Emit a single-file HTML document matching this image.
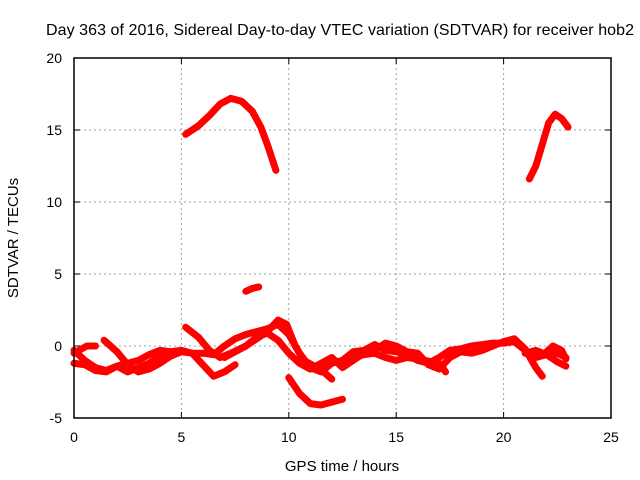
<!DOCTYPE html>
<html><head><meta charset="utf-8"><style>
body{margin:0;background:#fff}
svg{display:block;font-family:"Liberation Sans",sans-serif}
</style></head><body>
<svg id="chart" width="640" height="480">
<text x="340" y="35" text-anchor="middle" font-size="16" textLength="588">Day 363 of 2016, Sidereal Day-to-day VTEC variation (SDTVAR) for receiver hob2</text>
<text x="342" y="471" text-anchor="middle" font-size="15">GPS time / hours</text>
<text transform="translate(18,238) rotate(-90)" text-anchor="middle" font-size="15">SDTVAR / TECUs</text>
<g id="grid"></g><g id="ticks"></g><g id="series"></g>
<rect x="74" y="58" width="537" height="360" fill="none" stroke="#000" stroke-width="1.5"/>
</svg>
<script>
const xTicks=[0,5,10,15,20,25];
const yTicks=[-5,0,5,10,15,20];
const arcA=[[5.2,14.7],[5.8,15.3],[6.3,16],[6.8,16.8],[7.3,17.2],[7.8,17],[8.3,16.3],[8.7,15.2],[9.0,14],[9.4,12.2]];
const arcB=[[21.2,11.6],[21.5,12.5],[21.8,14],[22.1,15.5],[22.4,16.1],[22.7,15.8],[23,15.2]];
const segC=[[8.0,3.8],[8.3,4.0],[8.6,4.1]];
const L1=[[0,-0.3],[0.5,-1],[1,-1.5],[1.5,-1.7],[2,-1.4],[2.5,-1.2],[3,-1.0],[3.5,-0.6],[4,-0.3],[4.5,-0.4],[5,-0.4],[5.5,-0.5],[6,-0.5],[6.5,-0.6],[7,0],[7.5,0.5],[8,0.8],[8.5,1],[9,1.2],[9.5,1.5],[10,0.8],[10.5,-0.5],[11,-1.5],[11.5,-1.8],[12,-1.2],[12.5,-1],[13,-0.4],[13.5,-0.3],[14,0.1],[14.5,-0.3],[15,-0.4],[15.5,-0.6],[16,-1],[16.5,-1.2],[17,-0.8],[17.5,-0.3],[18,-0.2],[18.5,0],[19,0.1],[19.5,0.2],[20,0.2],[20.5,0.3],[21,-0.3],[21.5,-0.8],[22,-0.6],[22.5,-0.5],[22.9,-0.8]];
const L2=[[0,-1.2],[0.5,-1.3],[1,-1.7],[1.5,-1.8],[2,-1.4],[2.5,-1.8],[3,-1.5],[3.5,-1.2],[4,-0.7],[4.5,-0.4],[5,-0.3],[5.5,-0.5],[6,-1.3],[6.5,-2.1],[7,-1.8],[7.5,-1.3]];
const L3=[[0,-0.5],[0.6,0],[1,0]];
const L4=[[1.4,0.4],[2,-0.4],[2.5,-1.3],[3,-1.8],[3.5,-1.6],[4,-1.2],[4.5,-0.7],[5,-0.4]];
const L5=[[5.2,1.3],[5.8,0.6],[6.3,-0.3],[6.8,-0.8],[7.3,-0.5],[8,0],[8.5,0.5],[9,1],[9.5,1.8],[9.9,1.5],[10.3,0],[10.7,-1],[11.2,-1.4],[11.7,-1.9],[12,-2.3]];
const L6=[[10,-2.2],[10.5,-3.3],[11,-4],[11.5,-4.1],[12,-3.9],[12.5,-3.7]];
const L7=[[7,-0.8],[7.5,-0.4],[8,0],[8.5,0.6],[9,0.9],[9.5,0.4],[10,-0.5],[10.5,-1.2],[11,-1.6],[11.5,-1.2],[12,-0.8],[12.5,-1.5],[13,-1],[13.5,-0.5],[14,-0.3],[14.5,0.2],[15,0],[15.5,-0.4],[16,-0.5],[16.5,-1.3],[17,-1.6],[17.5,-0.8],[18,-0.4],[18.5,-0.5],[19,-0.3],[19.5,0],[20,0.3],[20.5,0.5],[21,-0.2],[21.5,-1.5],[21.8,-2.1]];
const L8=[[13,-0.8],[13.5,-0.6],[14,-0.5],[14.5,-0.8],[15,-1],[15.5,-0.8],[16,-0.9],[17,-1.2],[17.3,-1.8]];
const L9=[[21,-0.5],[21.5,-0.3],[22,-0.6],[22.5,-1.1],[22.9,-1.4]];
const L10=[[22,-0.4],[22.3,0],[22.7,-0.3],[22.9,-0.9]];
const seriesList=[arcA,arcB,segC,L1,L2,L3,L4,L5,L6,L7,L8,L9,L10];
const X0=74,X1=611,Y0=418,Y1=58;
function sx(v){return X0+(v-0)/(25-0)*(X1-X0);}
function sy(v){return Y0-(v+5)/(25)*(Y0-Y1);}
const NS="http://www.w3.org/2000/svg";
const grid=document.getElementById('grid'),ticks=document.getElementById('ticks'),ser=document.getElementById('series');
function mk(tag,attrs,parent){const e=document.createElementNS(NS,tag);for(const k in attrs)e.setAttribute(k,attrs[k]);parent.appendChild(e);return e;}
xTicks.forEach(t=>{const x=sx(t);
 if(t>0&&t<25){const g=mk('line',{x1:x,x2:x,y1:Y1,y2:Y0,stroke:'#a0a0a0','stroke-dasharray':'2,3'},grid);
 
 }
 mk('line',{x1:x,x2:x,y1:Y0,y2:Y0-6,stroke:'#000'},ticks);
 mk('line',{x1:x,x2:x,y1:Y1,y2:Y1+6,stroke:'#000'},ticks);
 const l=mk('text',{x:x,y:Y0+24,'text-anchor':'middle','font-size':'14'},ticks);l.textContent=t;
 
 });
yTicks.forEach(t=>{const y=sy(t);
 if(t>-5&&t<20){const g=mk('line',{x1:X0,x2:X1,y1:y,y2:y,stroke:'#a0a0a0','stroke-dasharray':'2,3'},grid);
 
 }
 mk('line',{x1:X0,x2:X0+6,y1:y,y2:y,stroke:'#000'},ticks);
 mk('line',{x1:X1,x2:X1-6,y1:y,y2:y,stroke:'#000'},ticks);
 const l=mk('text',{x:X0-12,y:y+5,'text-anchor':'end','font-size':'14'},ticks);l.textContent=t;
 
 });
seriesList.forEach(s=>{const p=mk('polyline',{points:s.map(d=>sx(d[0])+','+sy(d[1])).join(' '),fill:'none',stroke:'#ff0000','stroke-width':'7','stroke-linejoin':'round','stroke-linecap':'round'},ser);
 
 });
</script>
</body></html>
